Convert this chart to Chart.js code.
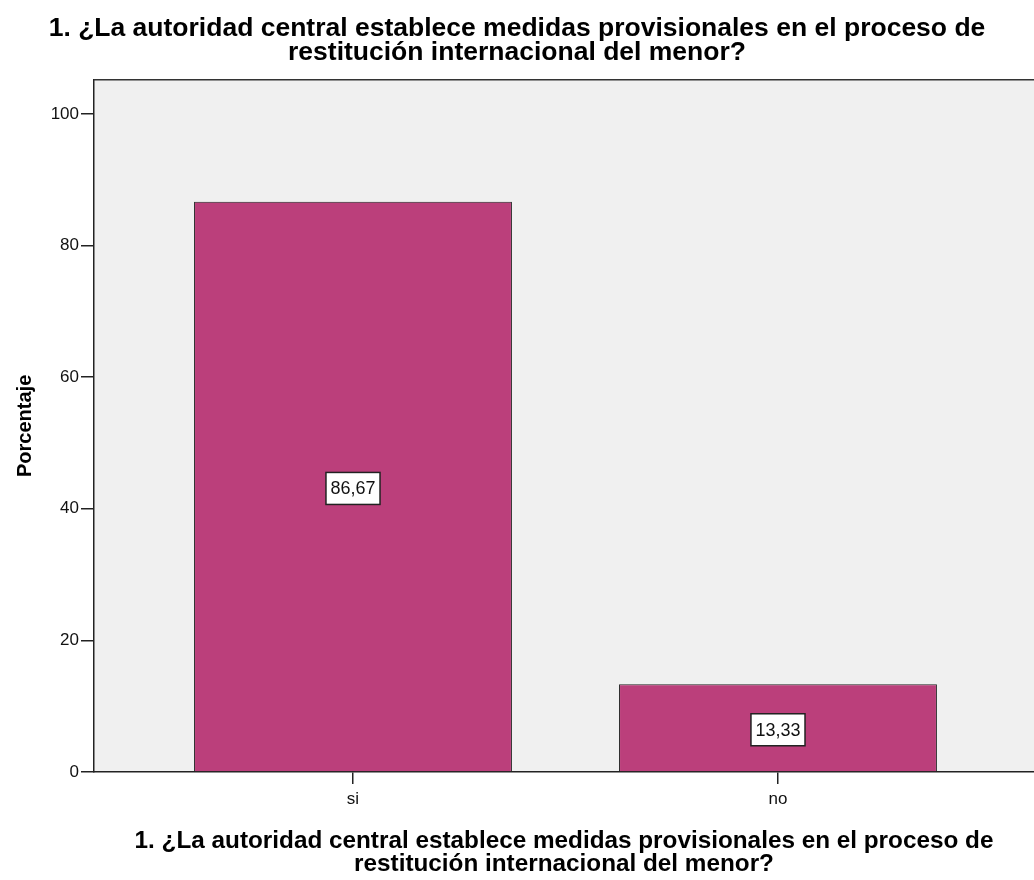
<!DOCTYPE html>
<html>
<head>
<meta charset="utf-8">
<script src="https://cdn.jsdelivr.net/npm/chart.js@4.4.1/dist/chart.umd.min.js"></script>
<style>
  html, body { margin: 0; padding: 0; background: #fff; }
  #wrap { width: 1034px; height: 880px; overflow: hidden; }
</style>
</head>
<body>
<div id="wrap"><canvas id="chart" width="1034" height="880"></canvas></div>
<script>
// data
const categories = ['si', 'no'];
const percentages = [86.67, 13.33];
const yTicks = [0, 20, 40, 60, 80, 100];

const questionText = [
    '1. ¿La autoridad central establece medidas provisionales en el proceso de',
    'restitución internacional del menor?'
];

const SANS = '"Liberation Sans", Arial, sans-serif';

// grey plot area + top frame line
const plotBackground = {
    id: 'plotBackground',
    beforeDraw(chart) {
        const { ctx, chartArea } = chart;
        ctx.save();
        ctx.fillStyle = '#F0F0F0';
        ctx.fillRect(chartArea.left, chartArea.top, chartArea.right - chartArea.left, chartArea.bottom - chartArea.top);
        ctx.restore();
    },
    afterDraw(chart) {
        const { ctx, chartArea } = chart;
        ctx.save();
        ctx.strokeStyle = '#333';
        ctx.lineWidth = 1.5;
        ctx.beginPath();
        ctx.moveTo(chartArea.left, chartArea.top);
        ctx.lineTo(chartArea.right, chartArea.top);
        ctx.stroke();
        ctx.restore();
    }
};

// boxed value labels in the middle of each bar
const boxedLabels = {
    id: 'boxedLabels',
    afterDatasetsDraw(chart) {
        const ctx = chart.ctx;
        const meta = chart.getDatasetMeta(0);
        ctx.save();
        ctx.font = '18px ' + SANS;
        ctx.textAlign = 'center';
        ctx.textBaseline = 'middle';
        meta.data.forEach((bar, i) => {
            const text = percentages[i].toFixed(2).replace('.', ',');
            const cx = bar.x;
            const cy = (bar.y + bar.base) / 2 + 2;
            const w = ctx.measureText(text).width + 9;
            const h = 32;
            ctx.fillStyle = '#fff';
            ctx.fillRect(cx - w / 2, cy - h / 2, w, h);
            ctx.strokeStyle = '#222';
            ctx.lineWidth = 1.5;
            ctx.strokeRect(cx - w / 2, cy - h / 2, w, h);
            ctx.fillStyle = '#111';
            ctx.fillText(text, cx, cy + 1);
        });
        ctx.restore();
    }
};

const ctx = document.getElementById('chart').getContext('2d');
new Chart(ctx, {
    type: 'bar',
    data: {
        datasets: [{
            data: categories.map((c, i) => ({ x: i, y: percentages[i] })),
            backgroundColor: '#BB3F7B',
            borderColor: '#222',
            borderWidth: 1,
            barPercentage: 0.748,
            categoryPercentage: 1
        }]
    },
    options: {
        responsive: false,
        animation: false,
        layout: { padding: 0 },
        plugins: {
            legend: { display: false },
            tooltip: { enabled: false },
            title: {
                display: true,
                text: questionText,
                color: '#000',
                font: { family: SANS, size: 26.5, weight: 'bold', lineHeight: 0.9 },
                padding: { top: 17, bottom: 15 }
            }
        },
        scales: {
            x: {
                type: 'linear',
                offset: false,
                min: -0.6094,
                max: 1.6024,
                afterBuildTicks: scale => { scale.ticks = categories.map((c, i) => ({ value: i })); },
                afterFit: scale => { scale.height = 108; },
                ticks: {
                    callback: value => categories[value],
                    color: '#111',
                    padding: 5,
                    maxRotation: 0,
                    font: { family: SANS, size: 17 }
                },
                grid: { offset: false, drawOnChartArea: false, drawTicks: true, tickLength: 12, color: '#222', lineWidth: 1.5 },
                border: { color: '#222', width: 1.5 },
                title: {
                    display: true,
                    text: questionText,
                    color: '#000',
                    font: { family: SANS, size: 24.3, weight: 'bold', lineHeight: 0.92 },
                    padding: { top: 0, bottom: 5 }
                }
            },
            y: {
                min: 0,
                max: 105.2,
                afterBuildTicks: scale => { scale.ticks = yTicks.map(v => ({ value: v })); },
                afterFit: scale => { scale.width = 94; },
                ticks: {
                    color: '#111',
                    padding: 2,
                    font: { family: SANS, size: 17 }
                },
                grid: { drawOnChartArea: false, drawTicks: true, tickLength: 13, color: '#222', lineWidth: 1.5 },
                border: { color: '#222', width: 1.5 },
                title: {
                    display: true,
                    text: 'Porcentaje',
                    color: '#000',
                    font: { family: SANS, size: 20, weight: 'bold' },
                    padding: { top: 13, bottom: 0 }
                }
            }
        }
    },
    plugins: [plotBackground, boxedLabels]
});
</script>
</body>
</html>
